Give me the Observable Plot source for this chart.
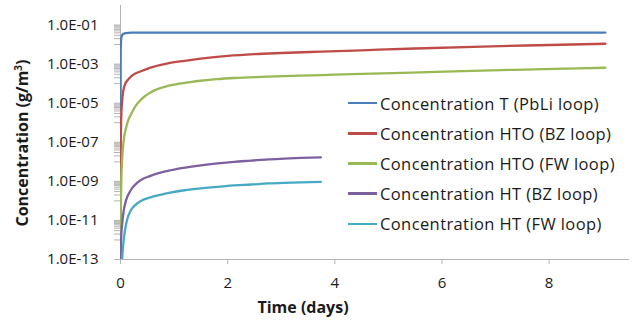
<!DOCTYPE html>
<html><head><meta charset="utf-8">
<script src="https://cdn.jsdelivr.net/npm/d3@7"></script>
<script src="https://cdn.jsdelivr.net/npm/@observablehq/plot@0.6"></script>
<style>
body{margin:0;background:#fff;}
#wrap{position:relative;width:633px;height:324px;font-family:"Open Sans",Lato,sans-serif;color:#1a1a1a;overflow:hidden;}
#wrap svg{position:absolute;left:0;top:0;}
.ytitle{position:absolute;left:22px;top:143px;transform:translate(-50%,-50%) rotate(-90deg);font-weight:bold;font-size:16px;white-space:nowrap;}
.xtitle{position:absolute;left:303px;top:307px;transform:translate(-50%,-50%);font-weight:bold;font-size:16px;white-space:nowrap;}
.legend{position:absolute;left:348px;top:88px;}
.legend .row{display:flex;align-items:center;height:30.2px;font-size:16.5px;letter-spacing:0.4px;white-space:nowrap;}
.legend .sw{display:inline-block;width:29px;height:2.5px;margin-right:3px;}
</style></head><body><div id="wrap"></div>
<script>
// Series names and colours
const seriesNames = ["Concentration T (PbLi loop)", "Concentration HTO (BZ loop)", "Concentration HTO (FW loop)", "Concentration HT (BZ loop)", "Concentration HT (FW loop)"];
const seriesColors = ["#4a7ebb", "#be4b48", "#98b954", "#7d60a0", "#46aac5"];

// Time (days) and concentration (g/m3)
const tBlue = [0, 0.004, 0.015, 0.03, 0.06, 0.1, 0.2, 0.4, 1, 2, 3, 4, 5, 6, 7, 8, 9.05];
const cBlue = [4.4e-6, 5e-3, 2.2e-2, 3.0e-2, 3.6e-2, 3.9e-2, 4.1e-2, 4.1e-2, 4.1e-2, 4.1e-2, 4.1e-2, 4.1e-2, 4.1e-2, 4.1e-2, 4.1e-2, 4.1e-2, 4.1e-2];

const tRed = [0, 0.005, 0.015, 0.03, 0.05, 0.09, 0.14, 0.19, 0.28, 0.37, 0.56, 0.88, 1.2, 1.5, 2.0, 2.5, 3.0, 3.75, 4.5, 5.5, 6.75, 8.0, 9.05];
const cRed = [1e-14, 1e-7, 2.5e-6, 1.26e-5, 4.0e-5, 1.0e-4, 1.58e-4, 2.24e-4, 3.3e-4, 4.2e-4, 6.6e-4, 1.1e-3, 1.48e-3, 1.9e-3, 2.63e-3, 3.24e-3, 3.7e-3, 4.37e-3, 5.1e-3, 6.3e-3, 7.9e-3, 9.5e-3, 1.1e-2];

const tGreen = [0, 0.005, 0.015, 0.03, 0.06, 0.1, 0.14, 0.19, 0.28, 0.37, 0.46, 0.56, 0.7, 0.88, 1.1, 1.3, 1.5, 1.8, 2.12, 2.75, 3.37, 3.75, 4.5, 5.6, 6.75, 7.9, 9.05];
const cGreen = [1e-14, 1e-11, 1e-9, 1.26e-8, 1.26e-7, 5.0e-7, 1.26e-6, 2.5e-6, 7.1e-6, 1.41e-5, 2.34e-5, 3.55e-5, 5.4e-5, 7.6e-5, 1.0e-4, 1.2e-4, 1.41e-4, 1.7e-4, 1.95e-4, 2.29e-4, 2.57e-4, 2.75e-4, 3.16e-4, 3.8e-4, 4.68e-4, 5.5e-4, 6.5e-4];

const tPurple = [0, 0.01, 0.03, 0.06, 0.1, 0.19, 0.3, 0.37, 0.56, 0.88, 1.18, 1.5, 1.81, 2.12, 2.44, 2.75, 3.06, 3.37, 3.74];
const cPurple = [1e-14, 1e-12, 6.3e-12, 3.2e-11, 1e-10, 3.5e-10, 7.9e-10, 1.12e-9, 1.9e-9, 3.4e-9, 4.9e-9, 6.6e-9, 8.3e-9, 1.0e-8, 1.15e-8, 1.32e-8, 1.45e-8, 1.58e-8, 1.7e-8];

const tCyan = [0, 0.02, 0.04, 0.06, 0.09, 0.13, 0.19, 0.28, 0.37, 0.56, 0.88, 1.19, 1.5, 1.81, 2.12, 2.44, 2.75, 3.06, 3.37, 3.74];
const cCyan = [1e-14, 3.2e-14, 2.5e-13, 1e-12, 4.0e-12, 1.26e-11, 3.2e-11, 6.3e-11, 9.5e-11, 1.5e-10, 2.5e-10, 3.5e-10, 4.4e-10, 5.2e-10, 6.2e-10, 6.9e-10, 7.8e-10, 8.3e-10, 8.9e-10, 9.3e-10];

// Axis ticks
const xTicks = [0, 2, 4, 6, 8];
const yMajorTicks = [1e-13, 1e-11, 1e-9, 1e-7, 1e-5, 1e-3, 1e-1];
const yTickLabels = ["1.0E-13", "1.0E-11", "1.0E-09", "1.0E-07", "1.0E-05", "1.0E-03", "1.0E-01"];
const yMinorMultipliers = [1, 2, 3, 4, 5, 6, 7, 8, 9];

const allT = [tBlue, tRed, tGreen, tPurple, tCyan];
const allC = [cBlue, cRed, cGreen, cPurple, cCyan];
const rows = [];
allT.forEach((ts, s) => ts.forEach((t, i) => rows.push({series: seriesNames[s], t, c: allC[s][i]})));

const yMinorTicks = [];
yMajorTicks.forEach(m => yMinorMultipliers.forEach(k => { const v = m * 10 * k; if (v < 1) yMinorTicks.push(v); }));

const axisGray = "#b3b3b3";
const chart = Plot.plot({
  width: 633, height: 324,
  marginLeft: 120, marginRight: 4, marginTop: 5, marginBottom: 65,
  style: {fontFamily: "'Open Sans', Lato, sans-serif", fontSize: "15px", color: "#1a1a1a", background: "transparent"},
  x: {domain: [0, 9.5]},
  y: {type: "log", domain: [1e-13, 1]},
  color: {domain: seriesNames, range: seriesColors},
  marks: [
    Plot.axisY({ticks: yMinorTicks, tickSize: 6, tickFormat: () => "", stroke: axisGray, label: null}),
    Plot.axisY({ticks: yMajorTicks, tickSize: 6, tickPadding: 16, stroke: axisGray, fill: "#1a1a1a", label: null,
      tickFormat: d => yTickLabels[yMajorTicks.indexOf(d)]}),
    Plot.axisX({ticks: xTicks, tickSize: 5, tickPadding: 13, stroke: axisGray, fill: "#1a1a1a", label: null, tickFormat: d => String(d)}),
    Plot.ruleX([0], {stroke: axisGray}),
    Plot.ruleY([1e-13], {stroke: axisGray}),
    Plot.line(rows, {x: "t", y: "c", z: "series", stroke: "series", strokeWidth: 2.3, curve: "monotone-x", clip: true})
  ]
});
const wrap = document.getElementById("wrap");
wrap.appendChild(chart);

const yt = document.createElement("div"); yt.className = "ytitle"; yt.innerHTML = "Concentration (g/m<sup style='font-size:10px'>3</sup>)"; wrap.appendChild(yt);
const xt = document.createElement("div"); xt.className = "xtitle"; xt.textContent = "Time (days)"; wrap.appendChild(xt);
const lg = document.createElement("div"); lg.className = "legend";
seriesNames.forEach((n, i) => {
  const r = document.createElement("div"); r.className = "row";
  const sw = document.createElement("span"); sw.className = "sw"; sw.style.background = seriesColors[i];
  const tx = document.createElement("span"); tx.textContent = n;
  r.appendChild(sw); r.appendChild(tx); lg.appendChild(r);
});
wrap.appendChild(lg);
</script></body></html>
